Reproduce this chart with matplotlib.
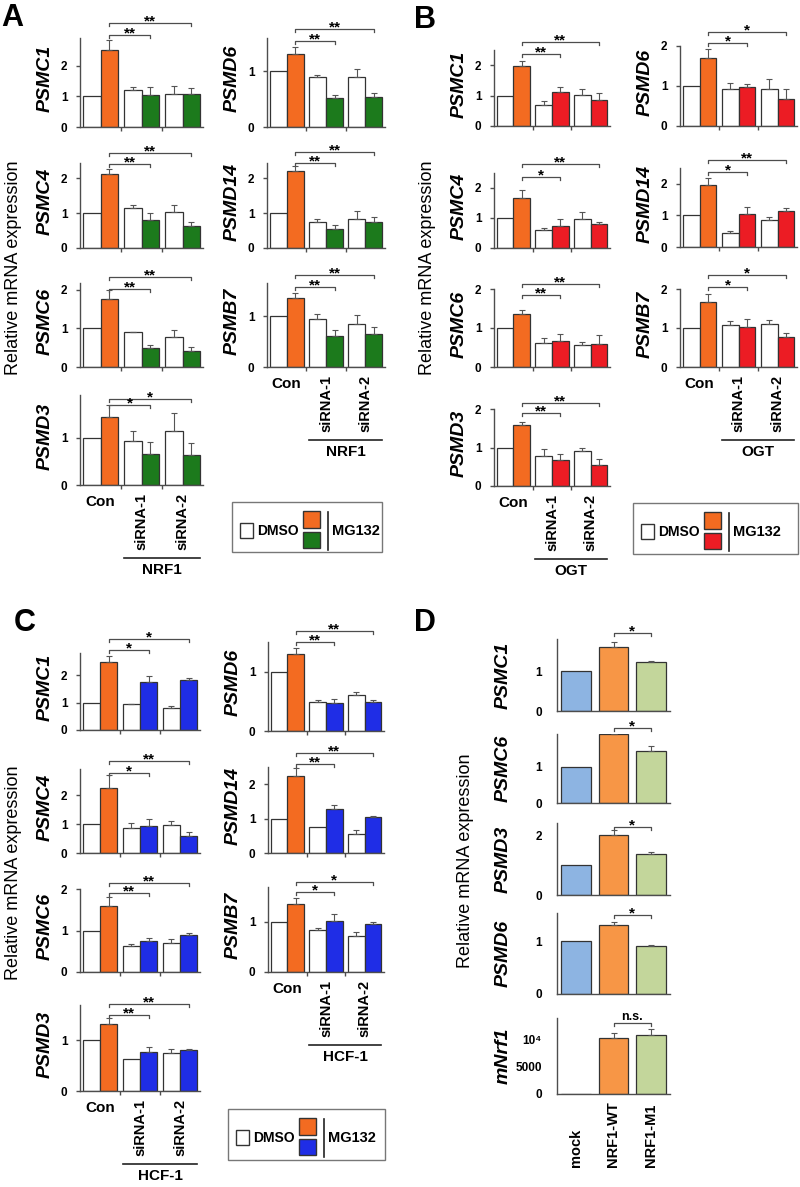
import numpy as np
import matplotlib
matplotlib.use("Agg")
import matplotlib.pyplot as plt
import matplotlib.transforms as mtransforms
from matplotlib.patches import Rectangle
from matplotlib.lines import Line2D

# ---- values ----
genes = ["PSMC1", "PSMD6", "PSMC4", "PSMD14", "PSMC6", "PSMB7", "PSMD3"]
treat_labels = ["Con", "siRNA-1", "siRNA-2"]
# bar order: Con DMSO, Con MG132, siRNA-1 DMSO, siRNA-1 MG132, siRNA-2 DMSO, siRNA-2 MG132
nrf1_mean = [
    [1.0, 2.51, 1.21, 1.04, 1.07, 1.09],
    [1.0, 1.31, 0.89, 0.52, 0.89, 0.54],
    [1.0, 2.12, 1.14, 0.81, 1.03, 0.64],
    [1.0, 2.21, 0.73, 0.53, 0.84, 0.75],
    [1.0, 1.77, 0.90, 0.50, 0.78, 0.42],
    [1.0, 1.36, 0.95, 0.61, 0.84, 0.65],
    [1.0, 1.44, 0.92, 0.66, 1.14, 0.64],
]
nrf1_err = [
    [0, 0.33, 0.08, 0.25, 0.28, 0.17],
    [0, 0.12, 0.05, 0.06, 0.15, 0.07],
    [0, 0.15, 0.10, 0.20, 0.19, 0.10],
    [0, 0.13, 0.09, 0.14, 0.22, 0.15],
    [0, 0.23, 0.02, 0.06, 0.17, 0.09],
    [0, 0.09, 0.10, 0.12, 0.18, 0.13],
    [0, 0.24, 0.21, 0.24, 0.37, 0.25],
]
nrf1_sig = [("**", "**"), ("**", "**"), ("**", "**"), ("**", "**"),
            ("**", "**"), ("**", "**"), ("*", "*")]

ogt_mean = [
    [1.0, 1.97, 0.70, 1.12, 1.01, 0.87],
    [1.0, 1.69, 0.92, 0.97, 0.93, 0.67],
    [1.0, 1.68, 0.61, 0.74, 0.97, 0.79],
    [1.0, 1.96, 0.44, 1.04, 0.84, 1.13],
    [1.0, 1.35, 0.62, 0.66, 0.56, 0.60],
    [1.0, 1.66, 1.08, 1.02, 1.10, 0.77],
    [1.0, 1.59, 0.79, 0.67, 0.91, 0.54],
]
ogt_err = [
    [0, 0.16, 0.13, 0.16, 0.20, 0.21],
    [0, 0.24, 0.15, 0.09, 0.25, 0.26],
    [0, 0.24, 0.07, 0.24, 0.23, 0.08],
    [0, 0.21, 0.06, 0.22, 0.12, 0.09],
    [0, 0.12, 0.12, 0.18, 0.08, 0.21],
    [0, 0.22, 0.10, 0.22, 0.11, 0.09],
    [0, 0.08, 0.16, 0.15, 0.09, 0.15],
]
ogt_sig = [("**", "**"), ("*", "*"), ("*", "**"), ("*", "**"),
           ("**", "**"), ("*", "*"), ("**", "**")]

hcf_mean = [
    [1.0, 2.46, 0.94, 1.75, 0.80, 1.82],
    [1.0, 1.29, 0.49, 0.47, 0.61, 0.49],
    [1.0, 2.24, 0.85, 0.94, 0.98, 0.60],
    [1.0, 2.23, 0.76, 1.28, 0.56, 1.05],
    [1.0, 1.60, 0.62, 0.75, 0.71, 0.90],
    [1.0, 1.36, 0.85, 1.02, 0.72, 0.96],
    [1.0, 1.32, 0.62, 0.76, 0.74, 0.80],
]
hcf_err = [
    [0, 0.24, 0.02, 0.23, 0.06, 0.08],
    [0, 0.11, 0.04, 0.07, 0.04, 0.03],
    [0, 0.46, 0.18, 0.23, 0.13, 0.11],
    [0, 0.23, 0.00, 0.11, 0.10, 0.04],
    [0, 0.20, 0.05, 0.07, 0.08, 0.05],
    [0, 0.12, 0.04, 0.14, 0.08, 0.05],
    [0, 0.11, 0.00, 0.10, 0.08, 0.02],
]
hcf_sig = [("*", "*"), ("**", "**"), ("*", "**"), ("**", "**"),
           ("**", "**"), ("*", "*"), ("**", "**")]

d_genes = ["PSMC1", "PSMC6", "PSMD3", "PSMD6", "mNrf1"]
d_labels = ["mock", "NRF1-WT", "NRF1-M1"]
d_mean = [
    [1.0, 1.60, 1.22],
    [1.0, 1.89, 1.42],
    [1.0, 2.00, 1.37],
    [1.0, 1.30, 0.91],
    [50, 10370, 10920],
]
d_err = [
    [0, 0.12, 0.04],
    [0, 0.02, 0.14],
    [0, 0.16, 0.06],
    [0, 0.06, 0.02],
    [0, 900, 1100],
]
d_sig = ["*", "*", "*", "*", "n.s."]
d_yticks = [[0, 1], [0, 1], [0, 2], [0, 1], [0, 5000, 10000]]
d_yticklabels = [["0", "1"], ["0", "1"], ["0", "2"], ["0", "1"], ["0", "5000", "10\u2074"]]

# ---- styles / layout (pixels, origin top-left) ----
ORANGE = "#f36b21"
GREEN = "#1c7a1c"
RED = "#ec1c24"
BLUE = "#1f2de6"
D_COLORS = ["#8db4e2", "#f79646", "#c3d69b"]
AXC = "#4d4d4d"
EDGE = "#333333"
SANS = ["Liberation Sans", "DejaVu Sans"]

W, H = 800, 1187
plt.rcParams["font.family"] = SANS
fig = plt.figure(figsize=(W / 100, H / 100), dpi=100)

layout = {
    "A": dict(lefts=(80, 267), widths=(123, 118),
              tops=[38, 38, 163, 163, 283, 283, 395],
              bottoms=[127, 127, 248, 248, 367, 367, 485],
              ylims=[2.9, 1.6, 2.43, 2.43, 2.18, 1.65, 1.9],
              brk=[(3, 15), (-3, 9), (-1, 10), (0, 11), (-6, 6), (-4, 8), (-10, -4)],
              legend=(232, 502, 150, 50), letter=(1, 3), ylabel=(14, 268)),
    "B": dict(lefts=(494, 680), widths=(116, 117),
              tops=[50, 46, 173, 168, 289, 289, 409],
              bottoms=[126, 126, 248, 247, 367, 367, 486],
              ylims=[2.5, 2.0, 2.5, 2.5, 2.0, 2.0, 2.0],
              brk=[(-4, 8), (3, 14), (-4, 9), (-4, 8), (-6, 5), (2, 14), (-4, 6)],
              legend=(633, 503, 165, 51), letter=(414, 5), ylabel=(428, 268)),
    "C": dict(lefts=(80, 268), widths=(120, 116),
              tops=[653, 642, 769, 767, 889, 887, 1005],
              bottoms=[730, 731, 853, 853, 972, 972, 1091],
              ylims=[2.8, 1.5, 2.9, 2.5, 2.0, 1.7, 1.69],
              brk=[(3, 14), (0, 11), (-4, 8), (3, 14), (-4, 6), (-5, 5), (-10, 1)],
              legend=(228, 1109, 157, 51), letter=(14, 608), ylabel=(14, 873)),
}

bar_x = np.repeat(np.arange(3) * 2.3, 2) + np.tile([0.5, 1.5], 3)
group_edges = np.arange(1, 3) * 2.3 - 0.15


def add_ax(left, top, width, bottom):
    ax = fig.add_axes([left / W, 1 - bottom / H, width / W, (bottom - top) / H])
    ax.patch.set_alpha(0)
    for s in ["top", "right"]:
        ax.spines[s].set_visible(False)
    for s in ["left", "bottom"]:
        ax.spines[s].set_color(AXC)
        ax.spines[s].set_linewidth(1.0)
    return ax


def ftext(x, y, s, **kw):
    return fig.text(x / W, 1 - y / H, s, **kw)


def bracket(ax, x0, x1, dy, label, h):
    tr = mtransforms.blended_transform_factory(ax.transData, ax.transAxes)
    y = 1 + dy / h
    t = 3 / h
    ax.plot([x0, x0, x1, x1], [y - t, y, y, y - t], color=AXC, lw=0.9,
            transform=tr, clip_on=False)
    if label.startswith("*"):
        ax.text((x0 + x1) / 2, y - 2 / h, label, transform=tr, ha="center",
                va="baseline", fontsize=11, fontweight="bold")
    else:
        ax.text((x0 + x1) / 2, y + 3 / h, label, transform=tr, ha="center",
                va="baseline", fontsize=9, fontweight="bold")


def draw_panel(key, means, errs, sigs, color, group):
    lay = layout[key]
    cols = ["white", ORANGE, "white", color, "white", color]
    for i, g in enumerate(genes):
        c = i % 2
        left, width = lay["lefts"][c], lay["widths"][c]
        top, bottom = lay["tops"][i], lay["bottoms"][i]
        h = bottom - top
        ax = add_ax(left, top, width, bottom)
        m = np.array(means[i])
        e = np.array(errs[i])
        ax.bar(bar_x, m, width=1.0, color=cols, edgecolor=EDGE, linewidth=0.9, zorder=2)
        k = e > 0
        ax.errorbar(bar_x[k], m[k], yerr=[np.zeros(k.sum()), e[k]], fmt="none",
                    ecolor="#555555", elinewidth=0.8, capsize=2, capthick=0.8, zorder=3)
        ylim = lay["ylims"][i]
        ax.set_ylim(0, ylim)
        ax.set_xlim(-0.15, 6.75)
        yt = np.arange(0, int(ylim + 0.01) + 1)
        ax.set_yticks(yt)
        ax.set_yticklabels([str(v) for v in yt], fontweight="bold", fontsize=8.5)
        ax.tick_params(axis="y", length=3, width=1, color=AXC, pad=6)
        ax.set_xticks(group_edges)
        ax.set_xticklabels([])
        ax.tick_params(axis="x", length=3, width=1, color=AXC)
        ftext(left - 35, (top + bottom) / 2 - 4, g, rotation=90, ha="center",
              va="center", fontsize=14, style="italic", fontweight="bold")
        d_in, d_out = lay["brk"][i]
        bracket(ax, bar_x[1], bar_x[3], d_in, sigs[i][0], h)
        bracket(ax, bar_x[1], bar_x[5], d_out, sigs[i][1], h)
        if i in (5, 6):
            ax.annotate(treat_labels[0], xy=(1.0, 0), xycoords=("data", "axes fraction"),
                        xytext=(0, -10), textcoords="offset pixels", ha="center",
                        va="top", fontsize=11, fontweight="bold")
            for j in (1, 2):
                ax.annotate(treat_labels[j], xy=(j * 2.3 + 1.0, 0),
                            xycoords=("data", "axes fraction"), xytext=(0, -8),
                            textcoords="offset pixels", ha="center", va="top",
                            rotation=90, fontsize=10.5, fontweight="bold")
            tr = mtransforms.blended_transform_factory(ax.transData, ax.transAxes)
            ax.plot([2.3, 6.6], [-73 / h, -73 / h], color="#222222", lw=1.2,
                    transform=tr, clip_on=False)
            ax.annotate(group, xy=(4.45, 0), xycoords=("data", "axes fraction"),
                        xytext=(0, -78), textcoords="offset pixels", ha="center",
                        va="top", fontsize=11, fontweight="bold")

    # legend box
    x, y, w, hh = lay["legend"]
    fig.add_artist(Rectangle((x / W, 1 - (y + hh) / H), w / W, hh / H,
                             transform=fig.transFigure, fill=False, ec="#777777", lw=1))
    fig.add_artist(Rectangle(((x + 8) / W, 1 - (y + 36) / H), 13 / W, 15 / H,
                             transform=fig.transFigure, fc="white", ec=EDGE, lw=1))
    ftext(x + 25, y + 29, "DMSO", ha="left", va="center", fontsize=10, fontweight="bold")
    fig.add_artist(Rectangle(((x + 71) / W, 1 - (y + 26) / H), 17 / W, 17 / H,
                             transform=fig.transFigure, fc=ORANGE, ec=EDGE, lw=1))
    fig.add_artist(Rectangle(((x + 71) / W, 1 - (y + 46) / H), 17 / W, 16 / H,
                             transform=fig.transFigure, fc=color, ec=EDGE, lw=1))
    fig.add_artist(Line2D([(x + 96) / W] * 2, [1 - (y + 10) / H, 1 - (y + 48) / H],
                          transform=fig.transFigure, color="#222222", lw=1.2))
    ftext(x + 100, y + 29, "MG132", ha="left", va="center", fontsize=10.5, fontweight="bold")

    lx, ly = lay["letter"]
    ftext(lx, ly, key, ha="left", va="top", fontsize=22, fontweight="bold")
    yx, yy = lay["ylabel"]
    ftext(yx, yy, "Relative mRNA expression", rotation=90, ha="center", va="center",
          fontsize=13)


draw_panel("A", nrf1_mean, nrf1_err, nrf1_sig, GREEN, "NRF1")
draw_panel("B", ogt_mean, ogt_err, ogt_sig, RED, "OGT")
draw_panel("C", hcf_mean, hcf_err, hcf_sig, BLUE, "HCF-1")

# ---- panel D ----
d_left, d_width = 557, 113
d_tops = [639, 734, 823, 913, 1018]
d_bottoms = [711, 803, 895, 994, 1094]
d_ylims = [1.8, 1.9, 2.4, 1.53, 14000]
d_brk = [6, 6, -4, -2, -5]
dx = np.arange(3)
for i, g in enumerate(d_genes):
    top, bottom = d_tops[i], d_bottoms[i]
    h = bottom - top
    ax = add_ax(d_left, top, d_width, bottom)
    m = np.array(d_mean[i])
    e = np.array(d_err[i])
    ax.bar(dx, m, width=0.78, color=D_COLORS, edgecolor=EDGE, linewidth=0.9, zorder=2)
    k = e > 0
    ax.errorbar(dx[k], m[k], yerr=[np.zeros(k.sum()), e[k]], fmt="none",
                ecolor="#555555", elinewidth=0.8, capsize=2, capthick=0.8, zorder=3)
    ax.set_xlim(-0.5, 2.5)
    ax.set_ylim(0, d_ylims[i])
    ax.set_yticks(d_yticks[i])
    ax.set_yticklabels(d_yticklabels[i], fontweight="bold", fontsize=8.5)
    ax.tick_params(axis="y", length=0, pad=11)
    ax.set_xticks([])
    bracket(ax, dx[1], dx[2], d_brk[i], d_sig[i], h)
    ftext(d_left - 54, (top + bottom) / 2, g, rotation=90, ha="center", va="center",
          fontsize=14, style="italic", fontweight="bold")
    if i == len(d_genes) - 1:
        for j, lab in enumerate(d_labels):
            ax.annotate(lab, xy=(j, 0), xycoords=("data", "axes fraction"),
                        xytext=(0, -73), textcoords="offset pixels", ha="center",
                        va="bottom", rotation=90, fontsize=10.5, fontweight="bold")

ftext(414, 608, "D", ha="left", va="top", fontsize=22, fontweight="bold")
ftext(466, 861, "Relative mRNA expression", rotation=90, ha="center", va="center",
      fontsize=13)

fig.savefig("out.png", dpi=100)
